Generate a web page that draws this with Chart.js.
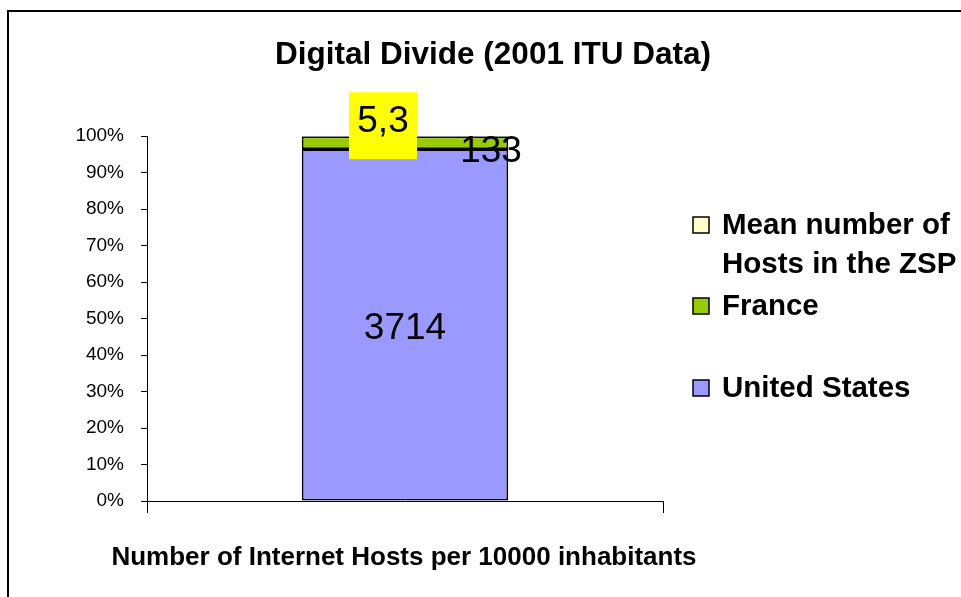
<!DOCTYPE html>
<html>
<head>
<meta charset="utf-8">
<script src="https://cdn.jsdelivr.net/npm/chart.js@4.4.1/dist/chart.umd.min.js"></script>
<style>
  body { margin: 0; background: #fff; }
  #wrap { position: relative; width: 961px; height: 597px; overflow: hidden; }
  #frame { position: absolute; left: 7px; top: 10px; width: 2000px; height: 2000px;
           border-left: 2px solid #000; border-top: 2px solid #000; }
  canvas { position: absolute; left: 0; top: 0; }
</style>
</head>
<body>
<div id="wrap">
  <div id="frame"></div>
  <canvas id="chart" width="961" height="597"></canvas>
</div>
<script>
// Data (bottom to top of the stack)
const categories = [''];
const seriesNames = ['United States', 'France', 'Mean number of\nHosts in the ZSP'];
const hostsUS = [3714];
const hostsFrance = [133];
const hostsZSP = [5.3];
const yTicks = [0, 10, 20, 30, 40, 50, 60, 70, 80, 90, 100];

const chartTitle = 'Digital Divide (2001 ITU Data)';
const xTitle = 'Number of Internet Hosts per 10000 inhabitants';

const rawSeries = [hostsUS, hostsFrance, hostsZSP];
const colors = ['#9999FF', '#99CC00', '#FFFFCC'];
const FONT = '"Liberation Sans", Arial, sans-serif';

// 100% stacking
const totals = categories.map((c, i) => rawSeries.reduce((s, arr) => s + arr[i], 0));
const pctSeries = rawSeries.map(arr => arr.map((v, i) => v / totals[i] * 100));

const datasets = rawSeries.map((arr, k) => ({
  label: seriesNames[k],
  data: pctSeries[k],
  raw: arr,
  backgroundColor: colors[k],
  borderColor: '#000',
  borderWidth: 1.8,
  borderSkipped: false,
  categoryPercentage: 1,
  barPercentage: 0.4
}));

// label placement tweaks per series: dx, dy, box
const labelStyle = [
  { dx: 0, dy: 4, box: false },
  { dx: 86, dy: 9, box: false },
  { dx: -22, dy: -11, box: true }
];
// legend rows (y centre of first line) per series
const legendY = [389, 307, 226];

const decor = {
  id: 'decor',
  afterDatasetsDraw(chart) {
    const ctx = chart.ctx;
    ctx.save();
    ctx.font = '37px ' + FONT;
    ctx.textAlign = 'center';
    ctx.textBaseline = 'middle';
    chart.data.datasets.forEach((ds, k) => {
      const el = chart.getDatasetMeta(k).data[0];
      const st = labelStyle[k];
      const cx = el.x + st.dx;
      const cy = (el.y + el.base) / 2 + st.dy;
      const txt = String(ds.raw[0]).replace('.', ',');
      if (st.box) {
        ctx.fillStyle = '#FFFF00';
        ctx.fillRect(cx - 34, cy - 33, 68, 67);
      }
      ctx.fillStyle = '#000';
      ctx.fillText(txt, cx, cy + (st.box ? -3 : 0));
    });
    ctx.restore();
  },
  afterDraw(chart) {
    const ctx = chart.ctx;
    ctx.save();
    ctx.fillStyle = '#000';
    ctx.textBaseline = 'middle';
    ctx.textAlign = 'center';
    ctx.font = 'bold 31.5px ' + FONT;
    ctx.fillText(chartTitle, 493, 55);
    ctx.font = 'bold 26px ' + FONT;
    ctx.fillText(xTitle, 404, 558);

    // legend
    ctx.textAlign = 'left';
    ctx.font = 'bold 29.5px ' + FONT;
    chart.data.datasets.forEach((ds, k) => {
      const y = legendY[k];
      ctx.fillStyle = ds.backgroundColor;
      ctx.fillRect(693, y - 9, 16, 16);
      ctx.strokeStyle = '#000';
      ctx.lineWidth = 1.5;
      ctx.strokeRect(693, y - 9, 16, 16);
      ctx.fillStyle = '#000';
      ds.label.split('\n').forEach((line, j) => {
        ctx.fillText(line, 722, y + j * 39);
      });
    });
    ctx.restore();
  }
};

new Chart(document.getElementById('chart'), {
  type: 'bar',
  data: { labels: categories, datasets },
  options: {
    responsive: false,
    animation: false,
    layout: { padding: { left: 47, right: 298, top: 136, bottom: 76 } },
    plugins: { legend: { display: false }, title: { display: false }, tooltip: { enabled: false } },
    scales: {
      x: {
        stacked: true,
        offset: true,
        grid: { offset: true, drawOnChartArea: false, color: '#000', tickLength: 12, lineWidth: 1 },
        border: { color: '#000', width: 1 },
        ticks: { display: false },
        afterFit(scale) { scale.height = 20; }
      },
      y: {
        stacked: true,
        min: 0,
        max: 100,
        afterBuildTicks(scale) { scale.ticks = yTicks.map(v => ({ value: v })); },
        grid: { drawOnChartArea: false, color: '#000', tickLength: 6, lineWidth: 1 },
        border: { color: '#000', width: 1 },
        ticks: {
          color: '#000',
          padding: 17,
          font: { family: FONT, size: 19 },
          callback: v => v + '%'
        },
        afterFit(scale) { scale.width = 100; }
      }
    }
  },
  plugins: [decor]
});
</script>
</body>
</html>
